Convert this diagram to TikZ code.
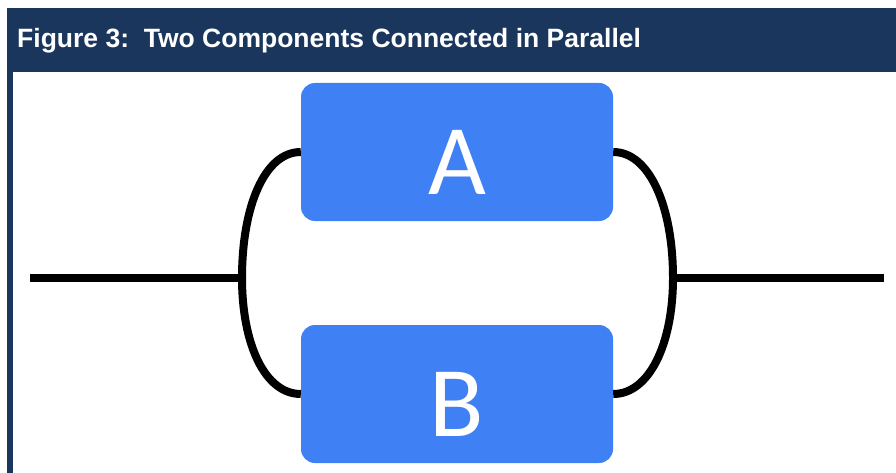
\documentclass[tikz,border=0pt]{standalone}
\usepackage{fontspec}
\setmainfont{Liberation Sans}
\newfontfamily\boxfont{Carlito}
\definecolor{navy}{HTML}{1B365D}
\definecolor{boxblue}{HTML}{3F80F5}

\begin{document}
\begin{tikzpicture}[x=1pt,y=1pt,
  comp/.style={fill=boxblue,rounded corners=14pt,minimum width=312pt,minimum height=138pt,
    inner sep=0pt,text=white,font=\boxfont\fontsize{100}{100}\selectfont,
    text height=84pt,text depth=0pt},
  wire/.style={line width=8pt}]
\useasboundingbox (0,0) rectangle (896,-473);
\fill[navy] (7,-8) rectangle (896,-72);
\fill[navy] (7,-72) rectangle (13,-473);
\node[anchor=base west,text=white,font=\bfseries\fontsize{26.5}{30}\selectfont,inner sep=0pt]
  (title) at (17,-48) {Figure 3:\ \ Two Components Connected in Parallel};

\node[comp] (boxA) at (457,-152) {A};
\node[comp] (boxB) at (457,-394) {B};

\coordinate (in) at (30,-278);
\coordinate (jL) at (242,-278);
\coordinate (jR) at (673,-278);
\coordinate (out) at (884,-278);

\draw[wire] (in) -- (jL);
\draw[wire] (jR) -- (out);
\draw[wire] (boxA.west) .. controls +(-36,0) and +(0,72) .. (jL)
  .. controls +(0,-66) and +(-36,0) .. (boxB.west);
\draw[wire] (boxA.east) .. controls +(36,0) and +(0,72) .. (jR)
  .. controls +(0,-66) and +(36,0) .. (boxB.east);
\end{tikzpicture}
\end{document}
